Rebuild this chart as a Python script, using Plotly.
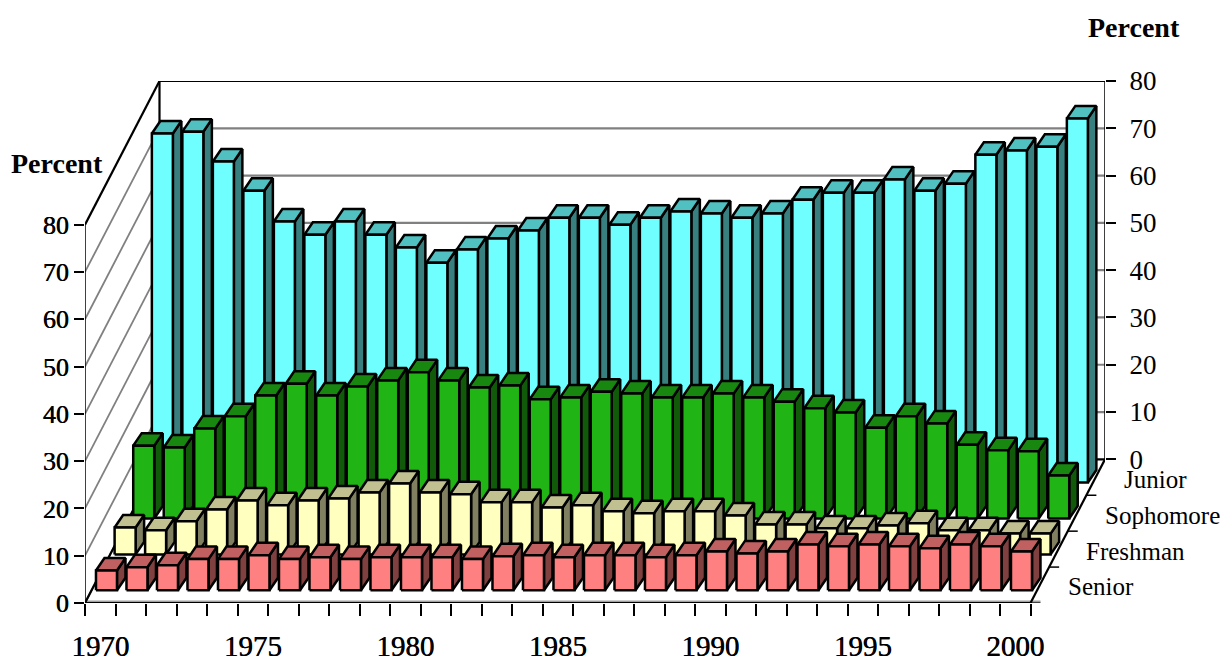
import plotly.graph_objects as go

YEARS = list(range(1970, 2001))
ROWS = ["Senior", "Freshman", "Sophomore", "Junior"]
JUNIOR = [73.8, 74.2, 67.9, 61.7, 55.2, 52.4, 55.2, 52.4, 49.7, 46.5, 49.3, 51.6, 53.3, 56.0, 56.0, 54.5,
          56.0, 57.3, 56.9, 56.0, 56.9, 59.8, 61.3, 61.3, 64.1, 61.7, 63.2, 69.3, 70.2, 71.0, 77.0]
SOPHOMORE = [15.4, 15.0, 19.0, 21.6, 26.0, 28.5, 26.0, 27.9, 29.2, 30.9, 29.2, 27.7, 28.1, 25.2, 25.6, 26.8,
             26.4, 25.6, 25.6, 26.4, 25.6, 24.7, 23.3, 22.4, 19.2, 21.6, 20.1, 15.6, 14.4, 14.2, 9.1]
FRESHMAN = [5.7, 5.1, 7.0, 9.5, 11.4, 10.4, 11.4, 11.8, 13.1, 15.0, 13.1, 12.7, 11.0, 11.0, 9.9, 10.4,
            9.1, 8.7, 9.1, 9.1, 8.2, 6.3, 6.3, 5.5, 5.5, 6.1, 6.6, 5.1, 5.1, 4.4, 4.4]
SENIOR = [4.2, 4.9, 5.3, 6.6, 6.6, 7.4, 6.6, 7.0, 6.6, 7.0, 7.0, 7.0, 6.6, 7.2, 7.4, 7.0,
          7.4, 7.4, 7.0, 7.4, 8.2, 7.8, 8.2, 9.7, 9.3, 9.7, 9.3, 8.9, 9.7, 9.3, 8.2]
VALUES = [SENIOR, FRESHMAN, SOPHOMORE, JUNIOR]
COLORS = [("#FF8080", "#C06060", "#804040"),
          ("#FFFFC0", "#C0C090", "#808060"),
          ("#20B414", "#188710", "#105A0A"),
          ("#70FFFF", "#50C0C0", "#388080")]
TICKS = [0, 10, 20, 30, 40, 50, 60, 70, 80]
YEAR_LABELS = [1970, 1975, 1980, 1985, 1990, 1995, 2000]

PXX, PXY = 30.5, 4.73           # pixels per category, pixels per percent
DX, DY = 74.5 / PXX, 143.7 / PXY  # full depth of the floor, in axis units
N = len(YEARS)
W = 21 / PXX                    # bar width
INS = 4.4 / PXX                 # bar inset in its slot
BDX, BDY = 8.5 / PXX, 12.5 / PXY  # bar depth
D0 = 12.7 / 143.7               # first row front, as depth fraction
FONT = "Liberation Serif"
HEAVY = "0.4px 0 0 black"       # thickens the left and bottom labels slightly
PLOT_W, PLOT_H = 1020, 522      # plot size in pixels

fig = go.Figure()


def lines(segs, color="black", width=2):
    xs, ys = [], []
    for (x0, y0, x1, y1) in segs:
        xs += [x0, x1, None]
        ys += [y0, y1, None]
    fig.add_trace(go.Scatter(x=xs, y=ys, mode="lines", line=dict(color=color, width=width),
                             hoverinfo="skip", showlegend=False, cliponaxis=False))


# walls
lines([(0, v, DX, v + DY) for v in TICKS[:-1]], "#808080", 1.8)
lines([(DX, v + DY, N + DX, v + DY) for v in TICKS[1:-1]], "#808080", 2.2)
lines([(0, 80, DX, 80 + DY), (DX, 80 + DY, N + DX, 80 + DY), (DX, DY, DX, 80 + DY)], "black", 2.2)
lines([(0, 0, 0, 80), (N + DX, DY, N + DX, 80 + DY)], "black", 1.5)
# floor
lines([(0, 0.35, N + 10 / PXX, 0.35)], "#A0A0A0", 1.5)
lines([(0, 0, N, 0), (0, 0, DX, DY), (N, 0, N + DX, DY), (DX, DY, N + DX, DY)], "black", 2.2)
lines([(N + f * DX, f * DY, N + f * DX + 10 / PXX, f * DY) for f in (0, .25, .5, .75, 1)], "black", 1.5)

# bars, from the back row to the front row
for r in (3, 2, 1, 0):
    d = D0 + 0.25 * r
    fx, fy, tx, ty, sx, sy = [], [], [], [], [], []
    for i, v in enumerate(VALUES[r]):
        x0 = i + INS + d * DX
        x1 = x0 + W
        y0 = d * DY
        y1 = y0 + v
        fx += [x0, x1, x1, x0, x0, None]
        fy += [y0, y0, y1, y1, y0, None]
        tx += [x0, x1, x1 + BDX, x0 + BDX, x0, None]
        ty += [y1, y1, y1 + BDY, y1 + BDY, y1, None]
        sx += [x1, x1 + BDX, x1 + BDX, x1, x1, None]
        sy += [y0, y0 + BDY, y1 + BDY, y1, y0, None]
    for xs, ys, col in ((sx, sy, COLORS[r][2]), (tx, ty, COLORS[r][1]), (fx, fy, COLORS[r][0])):
        fig.add_trace(go.Scatter(x=xs, y=ys, mode="lines", fill="toself", fillcolor=col,
                                 line=dict(color="black", width=2.5), hoverinfo="skip",
                                 showlegend=False, name=ROWS[r], cliponaxis=False))

# carriers for the overlaid axes (year labels and right-hand percent scale)
fig.add_trace(go.Scatter(x=[0.5], y=[0], mode="markers", marker=dict(opacity=0, size=1),
                         xaxis="x2", hoverinfo="skip", showlegend=False))
fig.add_trace(go.Scatter(x=[0.5], y=[0], mode="markers", marker=dict(opacity=0, size=1),
                         yaxis="y2", hoverinfo="skip", showlegend=False))

row_notes = [
    dict(text=name, xref="paper", yref="paper", xanchor="left", yanchor="middle",
         x=(N + (0.125 + 0.25 * r) * DX + 26 / PXX) / (N + DX),
         y=((0.125 + 0.25 * r) * DY - 0.4) / (80 + DY),
         showarrow=False, font=dict(family=FONT, size=25, color="black"))
    for r, name in enumerate(ROWS)
]
title_notes = [
    dict(text="<b>Percent</b>", xref="paper", yref="paper", xanchor="center", yanchor="middle",
         x=(57 - 85) / PLOT_W, y=(603 - 163) / PLOT_H,
         showarrow=False, font=dict(family=FONT, size=28, color="black")),
    dict(text="<b>Percent</b>", xref="paper", yref="paper", xanchor="center", yanchor="middle",
         x=(1134 - 85) / PLOT_W, y=(603 - 27) / PLOT_H,
         showarrow=False, font=dict(family=FONT, size=28, color="black")),
]

fig.update_layout(
    width=1222, height=655, margin=dict(l=77, r=125, t=73, b=60, autoexpand=False),
    paper_bgcolor="white", plot_bgcolor="white", showlegend=False,
    xaxis=dict(range=[0, N + DX], tickvals=list(range(N + 1)), showticklabels=False,
               ticks="outside", ticklen=12, tickwidth=1.5, tickcolor="black",
               showgrid=False, zeroline=False, showline=False, fixedrange=True),
    xaxis2=dict(range=[0, N + DX], overlaying="x", side="bottom", anchor="y",
                tickvals=[y - YEARS[0] + 0.5 for y in YEAR_LABELS],
                ticktext=[str(y) for y in YEAR_LABELS], ticks="", ticklabelstandoff=23,
                tickfont=dict(family=FONT, size=29, color="black", shadow=HEAVY),
                showgrid=False, zeroline=False, showline=False, fixedrange=True),
    yaxis=dict(range=[0, 80 + DY], tickvals=TICKS, ticks="outside", ticklen=10, tickwidth=1.5,
               tickcolor="black", tickfont=dict(family=FONT, size=26, color="black", shadow=HEAVY),
               ticklabelstandoff=0, showgrid=False, zeroline=False, showline=False, fixedrange=True),
    yaxis2=dict(range=[-DY, 80], overlaying="y", side="right", anchor="x", tickvals=TICKS,
                ticks="outside", ticklen=10, tickwidth=1.5, tickcolor="black",
                tickfont=dict(family=FONT, size=27, color="black"), ticklabelstandoff=8,
                showgrid=False, zeroline=False, showline=False, fixedrange=True),
    annotations=row_notes + title_notes,
)
fig.write_html("out.html")
